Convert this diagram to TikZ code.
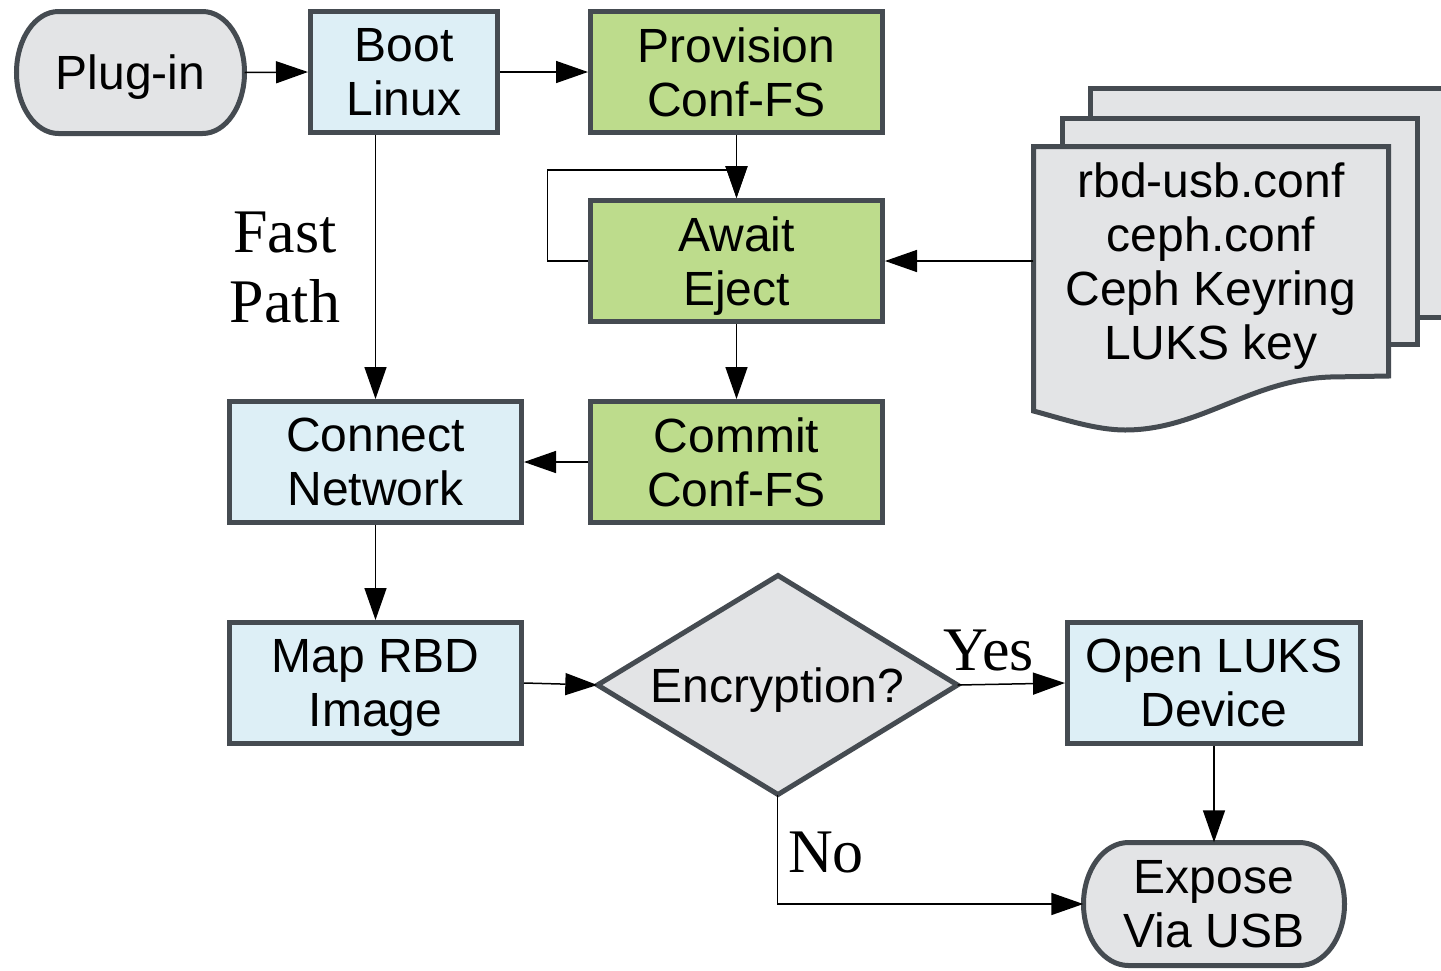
\documentclass[tikz,border=0pt]{standalone}
\usepackage{fontspec}
\setmainfont{Liberation Sans}
\newfontfamily\serifx{Liberation Serif}
\usetikzlibrary{arrows.meta,shapes.geometric}
\definecolor{bord}{HTML}{454B51}
\definecolor{fillblue}{HTML}{DDEFF6}
\definecolor{fillgreen}{HTML}{BDDC8C}
\definecolor{fillgray}{HTML}{E3E4E6}
\begin{document}
\begin{tikzpicture}[x=1pt,y=-1pt,
  txt/.style={font=\fontsize{48}{54}\selectfont, align=center, inner sep=0pt, text depth=0pt},
  box/.style={txt, draw=bord, line width=5pt, minimum width=292pt, minimum height=121pt},
  bluebox/.style={box, fill=fillblue},
  greenbox/.style={box, fill=fillgreen},
  shapeline/.style={draw=bord, line width=5pt, fill=fillgray, line join=miter},
  conn/.style={line width=1.5pt, -{Triangle[length=32pt,width=22pt]}},
  lbl/.style={font=\serifx\fontsize{62}{70}\selectfont, align=center, inner sep=0pt}
]
\path[use as bounding box, clip] (0,0) rectangle (1441,970);

% terminator shapes
\draw[shapeline] (58.5,11.5) -- (202.5,11.5)
  arc[start angle=-90, end angle=90, x radius=42, y radius=61]
  -- (58.5,133.5)
  arc[start angle=90, end angle=270, x radius=42, y radius=61] -- cycle;
\node[txt, minimum width=228pt, minimum height=122pt] (plug) at (130.5,72.5) {Plug-in};

\draw[shapeline] (1128.5,842.5) -- (1299.5,842.5)
  arc[start angle=-90, end angle=90, x radius=45, y radius=61.5]
  -- (1128.5,965.5)
  arc[start angle=90, end angle=270, x radius=45, y radius=61.5] -- cycle;
\node[txt, minimum width=261pt, minimum height=123pt] (expose) at (1214,904) {Expose\\Via USB};

% boxes
\node[bluebox, minimum width=187pt] (boot) at (404,72) {Boot\\Linux};
\node[greenbox] (prov) at (736.5,72) {Provision\\Conf-FS};
\node[greenbox] (await) at (736.5,261) {Await\\Eject};
\node[greenbox] (commit) at (736.5,462) {Commit\\Conf-FS};
\node[bluebox] (connect) at (375.5,462) {Connect\\Network};
\node[bluebox] (map) at (375.5,683) {Map RBD\\Image};
\node[bluebox, minimum width=293pt] (luks) at (1214,683) {Open LUKS\\Device};

% decision
\draw[shapeline] (778,575.5) -- (957.5,685) -- (778,794.5) -- (597.5,685) -- cycle;
\node[txt, minimum width=360pt, minimum height=219pt] (dec) at (777.5,685) {Encryption?};

% documents
\draw[shapeline] (1090.5,88.5) rectangle (1470,317.5);
\draw[shapeline] (1062.5,118.5) rectangle (1417.5,344.5);
\draw[shapeline] (1033.5,146.5) -- (1388.5,146.5) -- (1388.5,376) -- (1330,377)
  .. controls (1250,380) and (1200,430) .. (1125,430)
  .. controls (1095,430) and (1060,418) .. (1033.5,411) -- cycle;
\node[txt, minimum width=355pt] (docs) at (1211,261) {rbd-usb.conf\\ceph.conf\\Ceph Keyring\\LUKS key};

% connectors
\draw[conn] (plug.east) -- (boot.west);
\draw[conn] (boot.east) -- (prov.west);
\draw[conn] (prov.south) -- (await.north);
\coordinate (loopc) at (547.5,170);
\draw[conn] (await.west) -| (loopc) -- (loopc -| await.north) -- (await.north);
\draw[conn] (docs.west) -- (await.east);
\draw[conn] (await.south) -- (commit.north);
\draw[conn] (commit.west) -- (connect.east);
\draw[conn] (boot.south -| connect.north) -- (connect.north);
\draw[conn] (connect.south) -- (map.north);
\draw[conn] (map.east) -- (dec.west);
\draw[conn] (dec.east) -- (luks.west);
\draw[conn] (luks.south) -- (expose.north);
\draw[conn] (dec.south) |- (expose.west);

% labels
\node[lbl] (fast) at (285,267.5) {Fast\\Path};
\node[lbl, anchor=base] (yes) at (989,670) {Yes};
\node[lbl, anchor=base] (no) at (826,872) {No};
\end{tikzpicture}
\end{document}
